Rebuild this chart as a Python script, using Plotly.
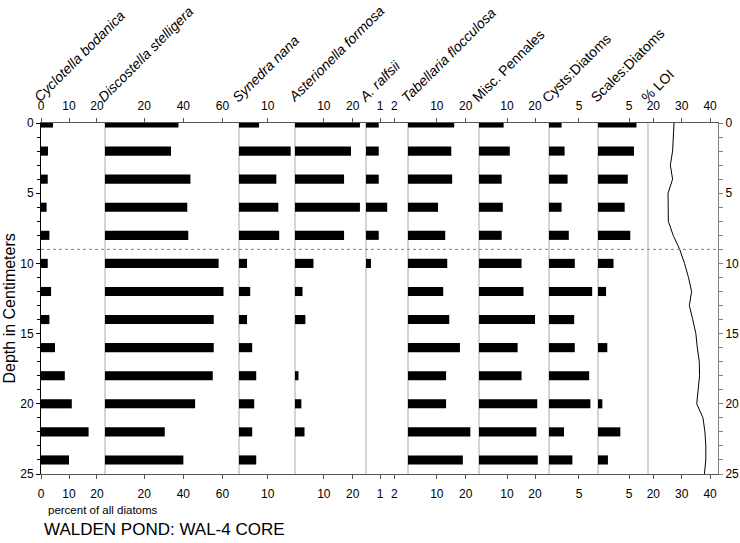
import plotly.graph_objects as go

# ---------------- data ----------------
depths = [0, 2, 4, 6, 8, 10, 12, 14, 16, 18, 20, 22, 24]

cyclotella_bodanica = [4.3, 2.5, 2.4, 2.0, 3.0, 2.4, 3.6, 3.0, 5.0, 8.5, 11.0, 17.0, 10.0]
discostella_stelligera = [37.5, 33.7, 43.6, 42.0, 42.5, 58.0, 60.5, 55.5, 55.5, 55.0, 46.0, 30.5, 40.0]
synedra_nana = [7.0, 18.0, 13.0, 13.7, 14.0, 2.8, 3.9, 2.8, 4.6, 6.0, 5.3, 4.6, 6.0]
asterionella_formosa = [22.5, 19.4, 17.0, 22.5, 17.0, 6.4, 2.6, 3.6, 0.0, 1.2, 2.2, 3.3, 0.0]
a_ralfsii = [0.9, 0.9, 0.9, 1.5, 0.9, 0.35, 0, 0, 0, 0, 0, 0, 0]
tabellaria_flocculosa = [16.0, 15.0, 15.3, 10.4, 12.9, 13.6, 12.2, 14.3, 18.0, 13.2, 13.2, 21.6, 19.0]
misc_pennales = [8.8, 11.0, 8.1, 8.5, 8.1, 15.2, 15.9, 20.0, 13.8, 15.2, 20.8, 20.5, 21.0]
cysts_diatoms = [2.1, 2.6, 3.1, 2.1, 3.3, 4.3, 7.2, 4.2, 4.3, 6.7, 6.9, 2.5, 3.9]
scales_diatoms = [6.2, 5.8, 4.8, 4.3, 5.2, 2.5, 1.3, 0.0, 1.5, 0.0, 0.7, 3.6, 1.6]

loi_depths = list(range(26))
loi_percent = [27.3, 27.0, 26.8, 26.0, 26.8, 25.2, 25.3, 25.3, 27.0, 29.3,
               31.0, 32.4, 33.5, 32.7, 33.9, 35.0, 35.5, 36.2, 36.3, 35.9,
               35.3, 37.5, 38.2, 38.5, 38.5, 38.0]

boundary_depth = 9

panel_titles = ["<i>Cyclotella bodanica</i>", "<i>Discostella stelligera</i>",
                "<i>Synedra nana</i>", "<i>Asterionella formosa</i>",
                "<i>A. ralfsii</i>", "<i>Tabellaria flocculosa</i>",
                "Misc. Pennales", "Cysts:Diatoms", "Scales:Diatoms", "% LOI"]
panel_ticks = [[0, 10, 20], [20, 40, 60], [10], [10, 20], [1, 2], [10, 20],
               [10, 20], [5], [5], [20, 30, 40]]
depth_ticks = [0, 5, 10, 15, 20, 25]

bar_series = [cyclotella_bodanica, discostella_stelligera, synedra_nana,
              asterionella_formosa, a_ralfsii, tabellaria_flocculosa,
              misc_pennales, cysts_diatoms, scales_diatoms]

# ---------------- layout geometry (styling) ----------------
W, H = 740, 543
L, R, T, B = 41, 22, 123, 69
plot_w = W - L - R
plot_h = H - T - B
edges_px = [41, 105, 239, 295, 366, 408, 479, 549, 598, 648, 718]
ranges = [[0, 22.86], [0, 68.4], [0, 19.5], [0, 24.6], [0, 2.97], [0, 24.6],
          [0, 25.0], [0, 8.17], [0, 8.06], [18.13, 42.8]]

FONT = "Liberation Sans, Arial, sans-serif"
AX = "#555555"
SEP = "#a8a8a8"

fig = go.Figure()

for i, vals in enumerate(bar_series):
    xa = "x" if i == 0 else f"x{i+1}"
    fig.add_trace(go.Bar(x=vals, y=depths, orientation="h", width=0.65,
                         marker=dict(color="black", line=dict(width=0)),
                         xaxis=xa, yaxis="y", showlegend=False,
                         hoverinfo="x+y"))

fig.add_trace(go.Scatter(x=loi_percent, y=loi_depths, mode="lines",
                         line=dict(color="black", width=1),
                         xaxis="x10", yaxis="y", showlegend=False))

# dummy traces so that the top axes and right axis are drawn
for i in range(10):
    fig.add_trace(go.Scatter(x=[None], y=[None], xaxis=f"x{i+11}", yaxis="y",
                             showlegend=False, hoverinfo="skip"))
fig.add_trace(go.Scatter(x=[None], y=[None], xaxis="x10", yaxis="y2",
                         showlegend=False, hoverinfo="skip"))

layout = dict(
    width=W, height=H,
    margin=dict(l=L, r=R, t=T, b=B, pad=0, autoexpand=False),
    paper_bgcolor="white", plot_bgcolor="white",
    barmode="overlay", showlegend=False,
    font=dict(family=FONT, size=12, color="black"),
)

for i in range(10):
    d0 = (edges_px[i] - L) / plot_w
    d1 = (edges_px[i + 1] - L) / plot_w
    common = dict(domain=[d0, d1], range=ranges[i], autorange=False,
                  showgrid=False, zeroline=False, showline=True,
                  linecolor=AX, linewidth=1, ticks="outside", ticklen=4,
                  tickcolor=AX, tickwidth=1, tickvals=panel_ticks[i],
                  tickfont=dict(family=FONT, size=12, color="black"),
                  automargin=False, fixedrange=True)
    kb = "xaxis" if i == 0 else f"xaxis{i+1}"
    layout[kb] = dict(common, side="bottom", anchor="y", ticklabelstandoff=5)
    layout[f"xaxis{i+11}"] = dict(common, side="top", anchor="y",
                                   overlaying=("x" if i == 0 else f"x{i+1}"),
                                   ticklabelstandoff=3)

layout["yaxis"] = dict(range=[25, 0], autorange=False, anchor="x", side="left",
                       showgrid=False, zeroline=False, showline=True,
                       linecolor="black", linewidth=1, ticks="outside",
                       ticklen=4, tickcolor="black", tickvals=depth_ticks,
                       minor=dict(dtick=1, ticks="outside", ticklen=3,
                                  tickcolor="black"),
                       tickfont=dict(family=FONT, size=12),
                       automargin=False, fixedrange=True)
layout["yaxis2"] = dict(range=[25, 0], autorange=False, anchor="x10",
                        overlaying="y", side="right",
                        showgrid=False, zeroline=False, showline=True,
                        linecolor="#808080", linewidth=1, ticks="outside",
                        ticklen=4, tickcolor="#808080", tickvals=depth_ticks,
                        minor=dict(dtick=1, ticks="outside", ticklen=4,
                                   tickcolor="#808080"),
                        tickfont=dict(family=FONT, size=12),
                        automargin=False, fixedrange=True)

shapes = []
for i in range(1, 10):
    shapes.append(dict(type="line", xref=f"x{i+1} domain", x0=0, x1=0,
                       yref="paper", y0=0, y1=1,
                       line=dict(color=SEP, width=1), layer="below"))
shapes.append(dict(type="line", xref="paper", x0=0, x1=1, yref="y",
                   y0=boundary_depth, y1=boundary_depth,
                   line=dict(color="#808080", width=1, dash="dot")))
layout["shapes"] = shapes

annotations = []
for i, title in enumerate(panel_titles):
    xr = "x domain" if i == 0 else f"x{i+1} domain"
    annotations.append(dict(text=title, xref=xr, x=0, yref="paper", y=1,
                            xanchor="left", yanchor="bottom", textangle=-45,
                            xshift=-13, yshift=15, showarrow=False,
                            font=dict(family=FONT, size=14, color="black")))
annotations.append(dict(text="Depth in Centimeters", xref="paper",
                        x=(8.5 - L) / plot_w, xanchor="center",
                        yref="paper", y=(H - B - 309) / plot_h,
                        yanchor="middle", textangle=-90, showarrow=False,
                        font=dict(family=FONT, size=16)))
annotations.append(dict(text="percent of all diatoms", xref="paper",
                        x=(46 - L) / plot_w, xanchor="left",
                        yref="paper", y=(H - B - 510) / plot_h, yanchor="middle",
                        showarrow=False, font=dict(family=FONT, size=11.5)))
annotations.append(dict(text="WALDEN POND: WAL-4 CORE", xref="paper",
                        x=(42 - L) / plot_w, xanchor="left",
                        yref="paper", y=(H - B - 529) / plot_h, yanchor="middle",
                        showarrow=False, font=dict(family=FONT, size=17)))
layout["annotations"] = annotations

fig.update_layout(**layout)
fig.write_html("out.html",
               config={"displayModeBar": False},
               post_script="document.body.style.margin='0';"
                           "document.body.style.padding='0';")
